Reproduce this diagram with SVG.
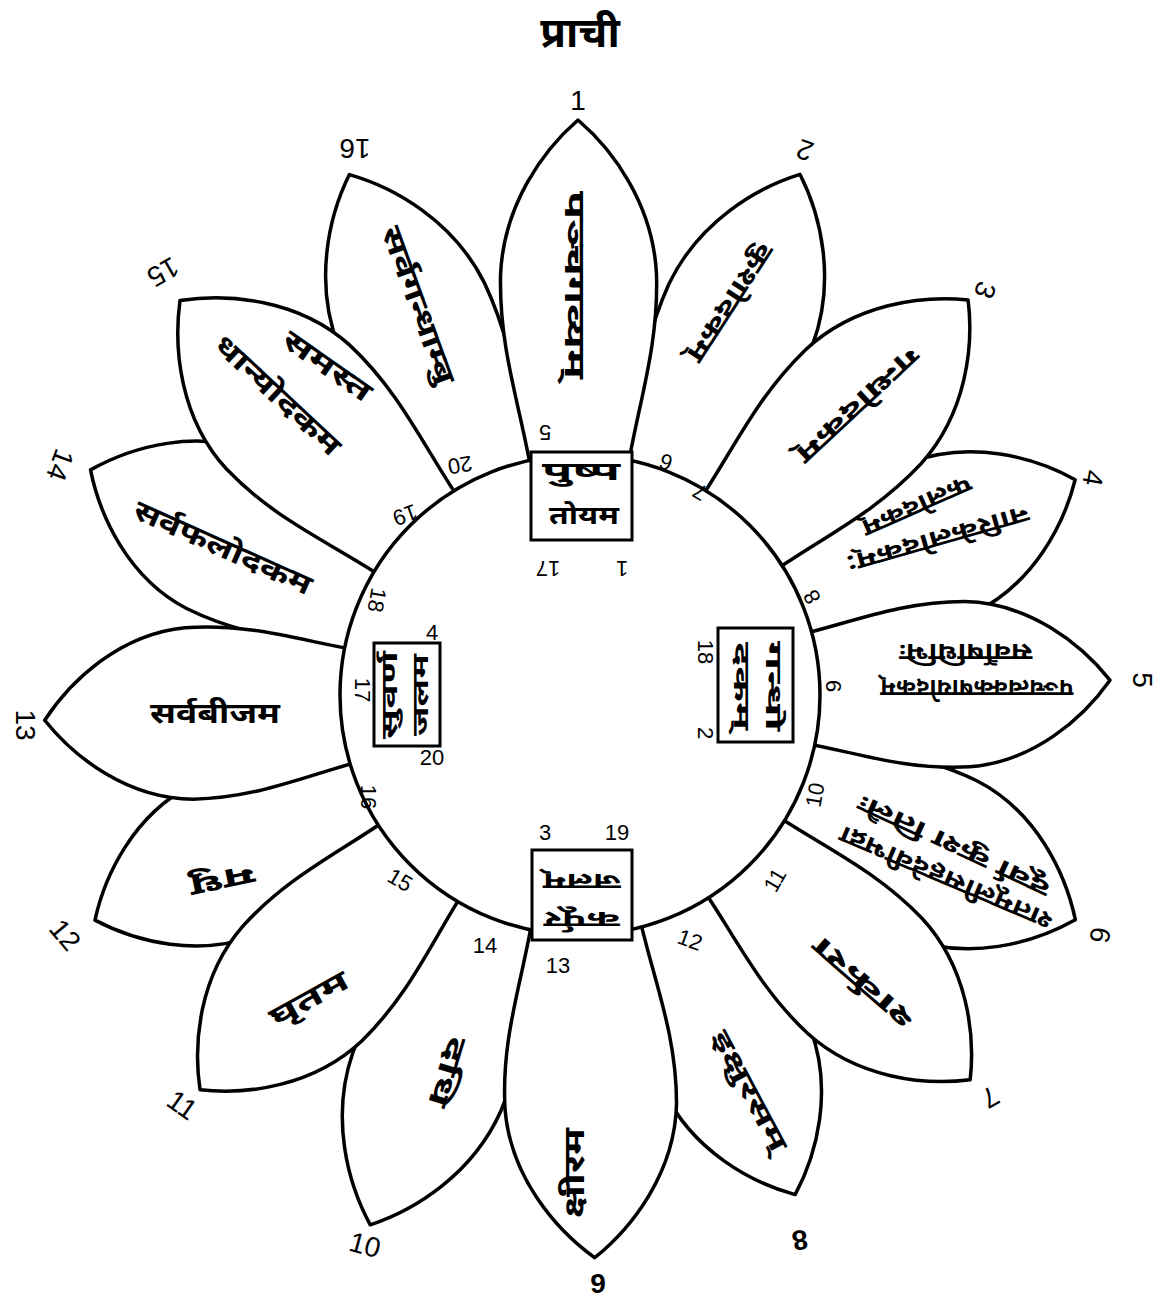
<svg xmlns="http://www.w3.org/2000/svg" width="1166" height="1303" viewBox="0 0 1166 1303">
<style>
.pt{fill:#fff;stroke:#000;stroke-width:3.5;stroke-linejoin:round}
.dv{font-family:'Noto Sans Devanagari','Lohit Devanagari','FreeSans','Noto Sans',sans-serif;font-weight:700;fill:#000;text-anchor:middle;dominant-baseline:central}
.n{font-family:'Liberation Sans',sans-serif;fill:#000;text-anchor:middle;dominant-baseline:central;font-size:22px}
.no{font-family:'Liberation Sans',sans-serif;fill:#000;text-anchor:middle;dominant-baseline:central;font-size:28px}
.box{fill:#fff;stroke:#000;stroke-width:3}
</style>
<defs>
<path id="petal" vector-effect="non-scaling-stroke" d="M -44,-200 C -55,-280 -80,-340 -78,-420 C -75,-490 -35,-545 0,-575 C 35,-545 75,-490 78,-420 C 80,-340 55,-280 44,-200 Z"/>
</defs>
<rect width="1166" height="1303" fill="#fff"/>
<text class="dv" x="580" y="36" font-size="42">प्राची</text>
<g id="petals-back">
<g id="petal2"><use href="#petal" class="pt" transform="translate(580 695) rotate(22.9) scale(1 0.983)"/></g>
<g id="petal4"><use href="#petal" class="pt" transform="translate(580 695) rotate(66.5) scale(1.05 0.939)"/></g>
<g id="petal6"><use href="#petal" class="pt" transform="translate(580 695) rotate(114.4) scale(1.1 0.946)"/></g>
<g id="petal8"><use href="#petal" class="pt" transform="translate(580 695) rotate(156.7) scale(1.02 0.946)"/></g>
<g id="petal10"><use href="#petal" class="pt" transform="translate(580 695) rotate(201.6) scale(1.02 0.991)"/></g>
<g id="petal12"><use href="#petal" class="pt" transform="translate(580 695) rotate(245.1) scale(1.05 0.93)"/></g>
<g id="petal14"><use href="#petal" class="pt" transform="translate(580 695) rotate(294.7) scale(1.1 0.937)"/></g>
<g id="petal16"><use href="#petal" class="pt" transform="translate(580 695) rotate(336.1) scale(1.02 0.99)"/></g>
</g>
<g id="petals-front">
<g id="petal1"><use href="#petal" class="pt" transform="translate(580 695) rotate(-0.2) scale(1 1)"/></g>
<g id="petal3"><use href="#petal" class="pt" transform="translate(580 695) rotate(44.5) scale(1.04 0.963)"/></g>
<g id="petal5"><use href="#petal" class="pt" transform="translate(580 695) rotate(88.4) scale(1.06 0.922)"/></g>
<g id="petal7"><use href="#petal" class="pt" transform="translate(580 695) rotate(134.6) scale(1.04 0.953)"/></g>
<g id="petal9"><use href="#petal" class="pt" transform="translate(580 695) rotate(178.5) scale(1.1 0.979)"/></g>
<g id="petal11"><use href="#petal" class="pt" transform="translate(580 695) rotate(223.9) scale(1.06 0.953)"/></g>
<g id="petal13"><use href="#petal" class="pt" transform="translate(580 695) rotate(267.3) scale(1.1 0.932)"/></g>
<g id="petal15"><use href="#petal" class="pt" transform="translate(580 695) rotate(314.6) scale(1.12 0.977)"/></g>
</g>
<g id="centre">
<circle cx="580" cy="695" r="240" fill="#fff" stroke="#000" stroke-width="3.5"/>
</g>
<g id="box-top"><rect class="box" x="531" y="452" width="101" height="88"/>
<text class="dv" x="581" y="474" font-size="25" textLength="78" lengthAdjust="spacingAndGlyphs">पुष्प</text><text class="dv" x="584" y="518" font-size="25" textLength="70" lengthAdjust="spacingAndGlyphs">तोयम</text></g>
<g id="box-right"><rect class="box" x="718" y="628" width="75" height="114"/>
<text class="dv" font-size="23" transform="translate(772 686) rotate(90)" textLength="90" lengthAdjust="spacingAndGlyphs">गन्धो</text><text class="dv" font-size="23" transform="translate(740 686) rotate(90)" textLength="88" lengthAdjust="spacingAndGlyphs">दकम्</text></g>
<g id="box-bottom"><rect class="box" x="532" y="850" width="100" height="90"/>
<text class="dv" font-size="23" transform="translate(582 918) rotate(180)" textLength="76" lengthAdjust="spacingAndGlyphs">कर्पूर</text><text class="dv" font-size="23" transform="translate(582 880) rotate(180)" textLength="78" lengthAdjust="spacingAndGlyphs">जलम्</text></g>
<g id="box-left"><rect class="box" x="374" y="643" width="66" height="103"/>
<text class="dv" font-size="23" transform="translate(391 695) rotate(-90)" textLength="88" lengthAdjust="spacingAndGlyphs">सुवर्ण</text><text class="dv" font-size="23" transform="translate(422 695) rotate(-90)" textLength="82" lengthAdjust="spacingAndGlyphs">जलम</text></g>
<g id="petal-texts">
<text class="dv" font-size="28" transform="translate(572 285) rotate(90)" textLength="188" lengthAdjust="spacingAndGlyphs">पञ्चगव्यम्</text>
<text class="dv" font-size="26" transform="translate(728 301) rotate(123)" textLength="136" lengthAdjust="spacingAndGlyphs">कुशोदकम्</text>
<text class="dv" font-size="26" transform="translate(856 403) rotate(137)" textLength="157" lengthAdjust="spacingAndGlyphs">गन्धोदकम्</text>
<text class="dv" font-size="24" transform="translate(937 537) rotate(164)" textLength="189" lengthAdjust="spacingAndGlyphs">नारिकेलोदकम्:</text>
<text class="dv" font-size="24" transform="translate(916 504) rotate(156)" textLength="117" lengthAdjust="spacingAndGlyphs">फलोदकम्</text>
<text class="dv" font-size="24" transform="translate(977 686) rotate(180)" textLength="193" lengthAdjust="spacingAndGlyphs">पञ्चत्वक्कषायोदकम्</text>
<text class="dv" font-size="24" transform="translate(966 650) rotate(180)" textLength="133" lengthAdjust="spacingAndGlyphs">सर्वौषधिभिः</text>
<text class="dv" font-size="24" transform="translate(947 876) rotate(203)" textLength="229" lengthAdjust="spacingAndGlyphs">शतमूलीसहदेवीभद्रा</text>
<text class="dv" font-size="24" transform="translate(955 844) rotate(205)" textLength="209" lengthAdjust="spacingAndGlyphs">दूर्वा कुश तिलैः</text>
<text class="dv" font-size="26" transform="translate(865 981) rotate(221)" textLength="125" lengthAdjust="spacingAndGlyphs">शर्करा</text>
<text class="dv" font-size="26" transform="translate(747 1092) rotate(62)" textLength="133" lengthAdjust="spacingAndGlyphs">इक्षुरसम्</text>
<text class="dv" font-size="28" transform="translate(577 1173) rotate(-90)" textLength="90" lengthAdjust="spacingAndGlyphs">क्षीरम</text>
<text class="dv" font-size="28" transform="translate(445 1071) rotate(107)" textLength="72" lengthAdjust="spacingAndGlyphs">दधि</text>
<text class="dv" font-size="28" transform="translate(310 1001) rotate(-29)" textLength="86" lengthAdjust="spacingAndGlyphs">घृतम</text>
<text class="dv" font-size="28" transform="translate(222 878) rotate(168)" textLength="66" lengthAdjust="spacingAndGlyphs">मधु</text>
<text class="dv" font-size="28" transform="translate(215 716)" textLength="130" lengthAdjust="spacingAndGlyphs">सर्वबीजम</text>
<text class="dv" font-size="28" transform="translate(222 550) rotate(24)" textLength="192" lengthAdjust="spacingAndGlyphs">सर्वफलोदकम</text>
<text class="dv" font-size="28" transform="translate(326 368) rotate(35)" textLength="102" lengthAdjust="spacingAndGlyphs">समस्त</text>
<text class="dv" font-size="28" transform="translate(276 397) rotate(43)" textLength="162" lengthAdjust="spacingAndGlyphs">धान्योदकम</text>
<text class="dv" font-size="28" transform="translate(416 306) rotate(70)" textLength="166" lengthAdjust="spacingAndGlyphs">सर्वगन्धाम्बु</text>
</g>
<g id="petal-numbers">
<text class="no" transform="translate(578 100)">1</text>
<text class="no" transform="translate(805 150) rotate(200)">2</text>
<text class="no" transform="translate(985 290) rotate(110)">3</text>
<text class="no" transform="translate(1093 478) rotate(100)">4</text>
<text class="no" transform="translate(1142 680) rotate(90)">5</text>
<text class="no" transform="translate(1100 935) rotate(100)">6</text>
<text class="no" transform="translate(990 1097) rotate(150)">7</text>
<text class="no" font-weight="700" transform="translate(800 1240) rotate(170)">8</text>
<text class="no" font-weight="700" transform="translate(598 1283)">9</text>
<text class="no" transform="translate(365 1245) rotate(15)">10</text>
<text class="no" transform="translate(182 1105) rotate(35)">11</text>
<text class="no" transform="translate(65 935) rotate(50)">12</text>
<text class="no" transform="translate(25 725) rotate(90)">13</text>
<text class="no" transform="translate(60 465) rotate(110)">14</text>
<text class="no" transform="translate(163 272) rotate(150)">15</text>
<text class="no" transform="translate(355 148) rotate(180)">16</text>
</g>
<g id="ring-numbers">
<text class="n" transform="translate(545 432) rotate(180)">5</text>
<text class="n" transform="translate(666 462) rotate(200)">6</text>
<text class="n" transform="translate(700 492) rotate(210)">7</text>
<text class="n" transform="translate(812 597) rotate(240)">8</text>
<text class="n" transform="translate(833 686) rotate(270)">9</text>
<text class="n" transform="translate(815 795) rotate(280)">10</text>
<text class="n" transform="translate(775 880) rotate(300)">11</text>
<text class="n" transform="translate(690 940) rotate(20)">12</text>
<text class="n" transform="translate(558 965)">13</text>
<text class="n" transform="translate(485 945)">14</text>
<text class="n" transform="translate(400 880) rotate(30)">15</text>
<text class="n" transform="translate(368 797) rotate(90)">16</text>
<text class="n" transform="translate(362 690) rotate(90)">17</text>
<text class="n" transform="translate(377 600) rotate(100)">18</text>
<text class="n" transform="translate(405 515) rotate(160)">19</text>
<text class="n" transform="translate(460 465) rotate(170)">20</text>
<text class="n" transform="translate(548 568) rotate(180)">17</text>
<text class="n" transform="translate(622 568) rotate(180)">1</text>
<text class="n" transform="translate(705 652) rotate(90)">18</text>
<text class="n" transform="translate(705 733) rotate(90)">2</text>
<text class="n" transform="translate(545 832)">3</text>
<text class="n" transform="translate(617 832)">19</text>
<text class="n" transform="translate(432 632)">4</text>
<text class="n" transform="translate(432 757)">20</text>
</g>
</svg>
